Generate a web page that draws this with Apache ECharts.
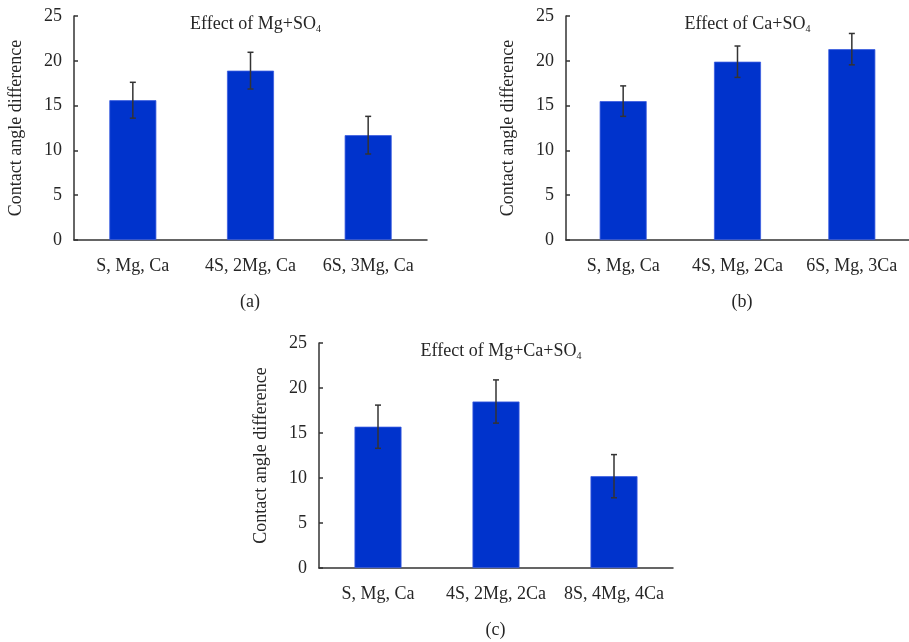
<!DOCTYPE html>
<html>
<head>
<meta charset="utf-8">
<script src="https://cdn.jsdelivr.net/npm/echarts@6/dist/echarts.min.js"></script>
<style>html,body{margin:0;padding:0;background:#fff;}#c{width:909px;height:642px;}</style>
</head>
<body>
<div id="c"></div>
<script>
var catsA = ['S, Mg, Ca', '4S, 2Mg, Ca', '6S, 3Mg, Ca'];
var valsA = [15.6, 18.9, 11.7];
var errA = [2.0, 2.05, 2.1];

var catsB = ['S, Mg, Ca', '4S, Mg, 2Ca', '6S, Mg, 3Ca'];
var valsB = [15.5, 19.9, 21.3];
var errB = [1.7, 1.75, 1.75];

var catsC = ['S, Mg, Ca', '4S, 2Mg, 2Ca', '8S, 4Mg, 4Ca'];
var valsC = [15.7, 18.5, 10.2];
var errC = [2.4, 2.4, 2.4];

var titles = ['Effect of Mg+SO{sub|4}', 'Effect of Ca+SO{sub|4}', 'Effect of Mg+Ca+SO{sub|4}'];
var captions = ['(a)', '(b)', '(c)'];
var yTicks = { min: 0, max: 25, interval: 5 };
var yName = 'Contact angle difference';

var FONT = '"Liberation Serif", "Times New Roman", serif';
var TXT = '#262626';
var AX = '#333333';
var BAR = '#0033cc';

var grids = [
  { left: 74, top: 16, width: 353, height: 224 },
  { left: 566, top: 16, width: 353, height: 224 },
  { left: 319, top: 343, width: 354, height: 225 }
];
var allCats = [catsA, catsB, catsC];
var allVals = [valsA, valsB, valsC];
var allErr = [errA, errB, errC];

var xAxes = [], yAxes = [], series = [], titleArr = [], graphics = [];
for (var i = 0; i < 3; i++) {
  var g = grids[i];
  xAxes.push({
    type: 'category', gridIndex: i, data: allCats[i],
    axisLine: { lineStyle: { color: AX, width: 1.5 } },
    axisTick: { show: false },
    axisLabel: { color: TXT, fontFamily: FONT, fontSize: 18, margin: 17, interval: 0, hideOverlap: false }
  });
  yAxes.push({
    type: 'value', gridIndex: i, min: yTicks.min, max: yTicks.max, interval: yTicks.interval,
    name: yName, nameLocation: 'middle', nameGap: 49,
    nameTextStyle: { color: TXT, fontFamily: FONT, fontSize: 18 },
    axisLine: { show: true, lineStyle: { color: AX, width: 1.5 } },
    axisTick: { show: true, inside: true, length: 4, lineStyle: { color: AX, width: 1.5 } },
    axisLabel: { color: TXT, fontFamily: FONT, fontSize: 18, margin: 12 },
    splitLine: { show: false }
  });
  series.push({
    type: 'bar', xAxisIndex: i, yAxisIndex: i, data: allVals[i], barWidth: 47,
    itemStyle: { color: BAR, borderColor: '#3a5ce0', borderWidth: 0.8 }
  });
  var errData = allVals[i].map(function (v, k) { return [k, v - allErr[i][k], v + allErr[i][k]]; });
  series.push({
    type: 'custom', xAxisIndex: i, yAxisIndex: i, data: errData, z: 5,
    renderItem: function (params, api) {
      var x = api.value(0);
      var lo = api.coord([x, api.value(1)]);
      var hi = api.coord([x, api.value(2)]);
      var w = 3;
      var st = { stroke: '#333', lineWidth: 1.5, fill: null };
      return {
        type: 'group',
        children: [
          { type: 'line', shape: { x1: hi[0], y1: hi[1], x2: lo[0], y2: lo[1] }, style: st },
          { type: 'line', shape: { x1: hi[0] - w, y1: hi[1], x2: hi[0] + w, y2: hi[1] }, style: st },
          { type: 'line', shape: { x1: lo[0] - w, y1: lo[1], x2: lo[0] + w, y2: lo[1] }, style: st }
        ]
      };
    }
  });
  titleArr.push({
    text: titles[i],
    left: g.left + g.width / 2,
    top: g.top - 6,
    textAlign: 'center',
    textStyle: {
      color: TXT, fontFamily: FONT, fontSize: 18, fontWeight: 'normal',
      rich: { sub: { color: TXT, fontFamily: FONT, fontSize: 10, padding: [9, 0, 0, 0] } }
    }
  });
  graphics.push({
    type: 'text',
    x: g.left + g.width / 2 - 0.5,
    y: g.top + g.height + 62,
    style: { text: captions[i], fill: TXT, font: '18px ' + FONT, textAlign: 'center', textVerticalAlign: 'middle' }
  });
}

var chart = echarts.init(document.getElementById('c'));
chart.setOption({
  backgroundColor: '#ffffff',
  animation: false,
  title: titleArr,
  grid: grids,
  xAxis: xAxes,
  yAxis: yAxes,
  series: series,
  graphic: graphics
});
</script>
</body>
</html>
